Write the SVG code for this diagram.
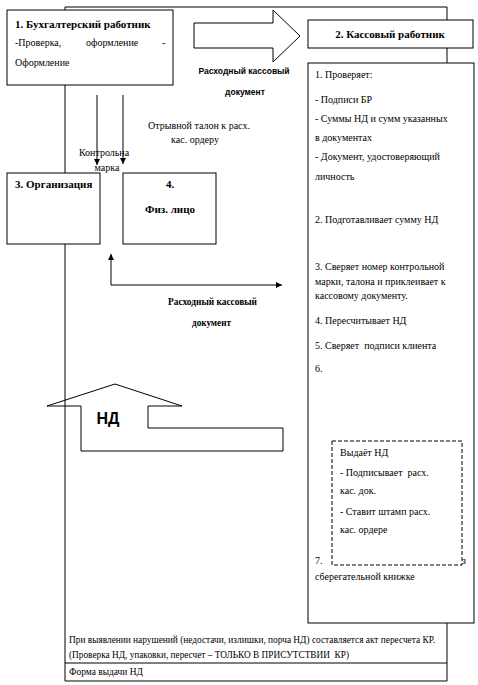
<svg xmlns="http://www.w3.org/2000/svg" width="478" height="685" viewBox="0 0 478 685">
<style>
text{white-space:pre}
.ln{fill:none;stroke:#000;stroke-width:1}
.bx{fill:#fff;stroke:#000;stroke-width:1}
.t{font-family:"Liberation Serif","Times New Roman",serif;font-size:10px;fill:#000}
.tb{font-family:"Liberation Serif","Times New Roman",serif;font-size:11px;font-weight:bold;fill:#000}
.s{font-family:"Liberation Sans",Arial,sans-serif;font-weight:bold;fill:#000}
</style>
<defs>
<marker id="ah" viewBox="0 0 10 10" refX="10" refY="5" markerWidth="6" markerHeight="6" orient="auto" markerUnits="userSpaceOnUse">
<path d="M0,0 L10,5 L0,10 Z" fill="#000"/>
</marker>
</defs>
<rect width="478" height="685" fill="#fff"/>
<g id="frame">
<path class="ln" d="M65,7 H447 V681 H65 Z"/>
<line class="ln" x1="65" y1="663" x2="447" y2="663"/>
<text class="t" x="69" y="643" font-size="9.5" textLength="366" lengthAdjust="spacingAndGlyphs">При выявлении нарушений (недостачи, излишки, порча НД) составляется акт пересчета КР.</text>
<text class="t" x="69" y="658" font-size="9.5" textLength="280" lengthAdjust="spacingAndGlyphs">(Проверка НД, упаковки, пересчет – ТОЛЬКО В ПРИСУТСТВИИ  КР)</text>
<text class="t" x="69" y="675" font-size="9.5" textLength="74" lengthAdjust="spacingAndGlyphs">Форма выдачи НД</text>
</g>
<g id="connectors">
<path class="bx" d="M194,23 H273 V10 L300,36 L273,62 V48 H194 Z"/>
<text class="s" x="244" y="74" font-size="8.5" text-anchor="middle">Расходный кассовый</text>
<text class="s" x="245" y="95" font-size="8.5" text-anchor="middle">документ</text>
<line class="ln" x1="97" y1="95" x2="97" y2="165" marker-end="url(#ah)"/>
<line class="ln" x1="123" y1="95" x2="123" y2="164" marker-end="url(#ah)"/>
<text class="t" x="104" y="156" font-size="10.5" text-anchor="middle">Контрольна</text>
<text class="t" x="107" y="171" font-size="10.5" text-anchor="middle">марка</text>
<text class="t" x="199" y="129" font-size="9" text-anchor="middle">Отрывной талон к расх.</text>
<text class="t" x="195" y="143" font-size="9" text-anchor="middle">кас. ордеру</text>
<path class="ln" d="M282,285 H111 V254" marker-end="url(#ah)"/>
<path d="M282,285 L276,282 L276,288 Z" fill="#000"/>
<text class="tb" x="168" y="305" font-size="8.5" textLength="89" lengthAdjust="spacingAndGlyphs">Расходный кассовый</text>
<text class="tb" x="192" y="326" font-size="8.5" textLength="39" lengthAdjust="spacingAndGlyphs">документ</text>
<path class="ln" d="M283,428 H148 V406 H182 L115,384 L47,406 H81 V451 H283 Z"/>
<text class="s" x="108" y="424" font-size="16" text-anchor="middle">НД</text>
</g>
<g id="n1">
<rect class="bx" x="7" y="10" width="166" height="75"/>
<text class="tb" x="15" y="28">1. Бухгалтерский работник</text>
<text class="t" x="15" y="46" font-size="11">-Проверка,</text>
<text class="t" x="86" y="46" font-size="11">оформление</text>
<text class="t" x="162" y="46" font-size="11">-</text>
<text class="t" x="15" y="66" font-size="11">Оформление</text>
</g>
<g id="n2">
<rect class="bx" x="308" y="20" width="165" height="28"/>
<text class="tb" x="390" y="38" text-anchor="middle">2. Кассовый работник</text>
</g>
<g id="n3">
<rect class="bx" x="7" y="173" width="93" height="71"/>
<text class="tb" x="15" y="188" font-size="10.5">3. Организация</text>
</g>
<g id="n4">
<rect class="bx" x="123" y="173" width="93" height="71"/>
<text class="tb" x="170" y="188" font-size="10.5" text-anchor="middle">4.</text>
<text class="tb" x="170" y="213" font-size="10.5" text-anchor="middle">Физ. лицо</text>
</g>
<g id="n5">
<rect class="bx" x="308" y="63" width="166" height="560"/>
<text class="t" x="315" y="78">1. Проверяет:</text>
<text class="t" x="315" y="103">- Подписи БР</text>
<text class="t" x="315" y="122">- Суммы НД и сумм указанных</text>
<text class="t" x="315" y="141">в документах</text>
<text class="t" x="315" y="160">- Документ, удостоверяющий</text>
<text class="t" x="315" y="180">личность</text>
<text class="t" x="315" y="223">2. Подготавливает сумму НД</text>
<text class="t" x="315" y="270">3. Сверяет номер контрольной</text>
<text class="t" x="315" y="285">марки, талона и приклеивает к</text>
<text class="t" x="315" y="299">кассовому документу.</text>
<text class="t" x="315" y="324">4. Пересчитывает НД</text>
<text class="t" x="315" y="349">5. Сверяет  подписи клиента</text>
<text class="t" x="315" y="372">6.</text>
<text class="t" x="315" y="564">7.</text>
<text class="t" x="462" y="564">з</text>
<text class="t" x="315" y="580">сберегательной книжке</text>
</g>
<g id="n6">
<rect class="bx" x="332" y="441" width="130" height="124" stroke-dasharray="4,2"/>
<text class="t" x="340" y="456">Выдаёт НД</text>
<text class="t" x="340" y="476">- Подписывает  расх.</text>
<text class="t" x="340" y="494">кас. док.</text>
<text class="t" x="340" y="515">- Ставит штамп расх.</text>
<text class="t" x="340" y="533">кас. ордере</text>
</g>
</svg>
